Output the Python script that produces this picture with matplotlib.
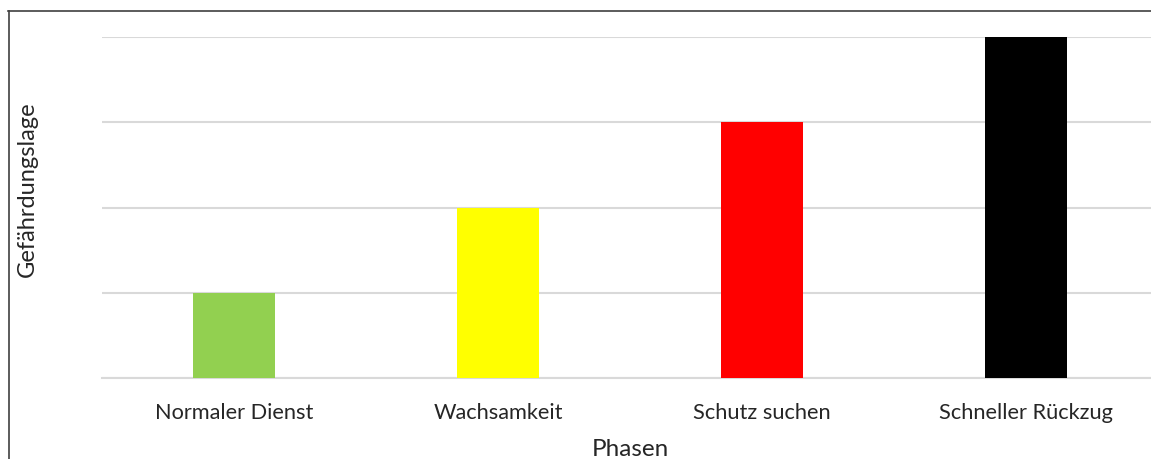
import matplotlib
matplotlib.use("Agg")
import matplotlib.pyplot as plt
from matplotlib.lines import Line2D

categories = ["Normaler Dienst", "Wachsamkeit", "Schutz suchen", "Schneller Rückzug"]
values = [1, 2, 3, 4]
colors = ["#92D050", "#FFFF00", "#FF0000", "#000000"]

plt.rcParams['font.family'] = ['Lato', 'DejaVu Sans']

W, H = 1151, 459
fig = plt.figure(figsize=(W / 100, H / 100), dpi=100)
left, right, top, bottom = 102, 1158, 37, 378
ax = fig.add_axes([left / W, (H - bottom) / H, (right - left) / W, (bottom - top) / H])

x = list(range(len(categories)))
ax.bar(x, values, width=0.31, color=colors, zorder=3)
ax.set_xlim(-0.5, len(categories) - 0.5)
ax.set_ylim(0, 4)
ax.set_yticks([0, 1, 2, 3, 4])
ax.set_yticklabels([])
ax.yaxis.grid(True, color="#D9D9D9", linewidth=1.5, zorder=0)
ax.tick_params(axis="y", length=0)
ax.tick_params(axis="x", length=0, pad=18, labelsize=15.7, labelcolor="#262626")
ax.set_xticks(x)
ax.set_xticklabels(categories)
for s in ["top", "right", "left"]:
    ax.spines[s].set_visible(False)
ax.spines["bottom"].set_color("#D9D9D9")
ax.spines["bottom"].set_linewidth(1.5)

fig.text(630 / W, (H - 449) / H, "Phasen", ha="center", va="center", fontsize=17.5, color="#262626")
fig.text(27 / W, (H - 189) / H, "Gefährdungslage", ha="center", va="center", rotation=90,
         fontsize=17, color="#262626")

fig.add_artist(Line2D([8.5 / W, 8.5 / W], [0, (H - 11) / H], transform=fig.transFigure,
                      color="#404040", linewidth=1.2))
fig.add_artist(Line2D([8 / W, 1], [(H - 11) / H, (H - 11) / H], transform=fig.transFigure,
                      color="#404040", linewidth=1.2))

fig.savefig("out.png", dpi=100, facecolor="white")
